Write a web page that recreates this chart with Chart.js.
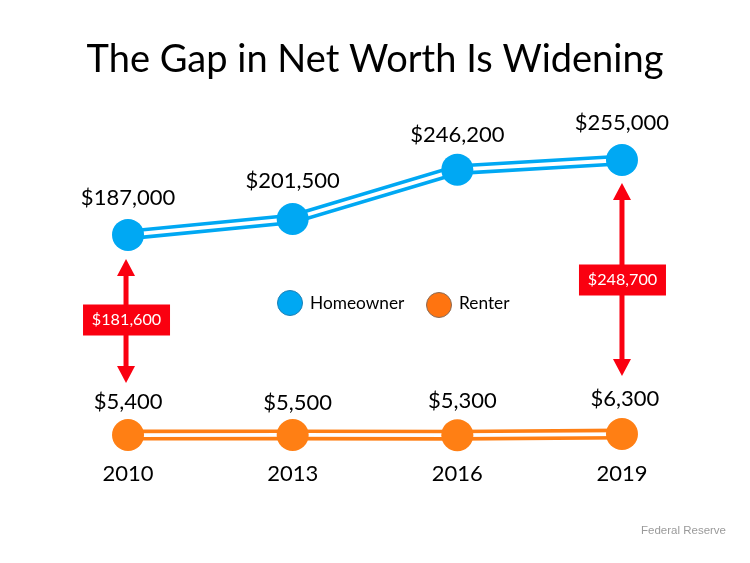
<!DOCTYPE html>
<html>
<head>
<meta charset="utf-8">
<title>The Gap in Net Worth Is Widening</title>
<script src="https://cdn.jsdelivr.net/npm/chart.js@4"></script>
<style>
  html, body { margin: 0; padding: 0; background: #fff; }
  canvas { display: block; }
</style>
</head>
<body>
<canvas id="grafico" width="750" height="563"></canvas>
<script>
const years = ['2010', '2013', '2016', '2019'];
const homeowner = [187000, 201500, 246200, 255000];
const renter = [5400, 5500, 5300, 6300];
const gapYears = ['2010', '2019'];
const gapValues = [181600, 248700];

const BLUE = '#00a8f3';
const ORANGE = '#ff7f14';
const RED = '#fa0010';
const FONT = 'Lato, "Noto Sans", sans-serif';

const money = v => '$' + v.toLocaleString('en-US');

// three layers per series: thick line, white core, then the dots on top
function lineLayer(data, color, width, order) {
    return { data, borderColor: color, borderWidth: width, pointRadius: 0, order, clip: false };
}
function dotLayer(data, color, order) {
    return { data, showLine: false, pointRadius: 16, pointBackgroundColor: color, pointBorderWidth: 0, order, clip: false };
}

// offsets of the value labels above each dot
const homeLabelDy = [-37.5, -38.5, -34.5, -37.5];
const rentLabelDy = [-33, -32, -34, -35];
const rentLabelDx = [0, 5, 5, 3];

const valueLabels = {
    id: 'valueLabels',
    afterDatasetsDraw(chart) {
        const { ctx, scales: { x, y } } = chart;
        ctx.save();
        ctx.font = '400 22px ' + FONT;
        ctx.fillStyle = '#000';
        ctx.textAlign = 'center';
        ctx.textBaseline = 'middle';
        years.forEach((yr, i) => {
            ctx.fillText(money(homeowner[i]), x.getPixelForValue(i), y.getPixelForValue(homeowner[i]) + homeLabelDy[i]);
            ctx.fillText(money(renter[i]), x.getPixelForValue(i) + rentLabelDx[i], y.getPixelForValue(renter[i]) + rentLabelDy[i]);
        });
        ctx.restore();
    }
};

function arrowHead(ctx, cx, tipY, dir) {
    ctx.beginPath();
    ctx.moveTo(cx, tipY);
    ctx.lineTo(cx - 9, tipY + dir * 17);
    ctx.lineTo(cx + 9, tipY + dir * 17);
    ctx.closePath();
    ctx.fill();
}

// red double arrows between the two series
const arrowLayout = [
    { dx: -2, top: 24, bottom: 52, box: 320 },
    { dx: 0, top: 23, bottom: 58, box: 280 }
];

const gapArrows = {
    id: 'gapArrows',
    afterDatasetsDraw(chart) {
        const { ctx, scales: { x, y } } = chart;
        ctx.save();
        gapYears.forEach((yr, i) => {
            const idx = years.indexOf(yr);
            const l = arrowLayout[i];
            const cx = x.getPixelForValue(idx) + l.dx;
            const tipTop = y.getPixelForValue(homeowner[idx]) + l.top;
            const tipBottom = y.getPixelForValue(renter[idx]) - l.bottom;
            ctx.fillStyle = RED;
            ctx.fillRect(cx - 2.5, tipTop + 16, 5, tipBottom - tipTop - 32);
            arrowHead(ctx, cx, tipTop, 1);
            arrowHead(ctx, cx, tipBottom, -1);
            ctx.fillRect(cx - 43, l.box - 15.5, 87, 31);
            ctx.fillStyle = '#fff';
            ctx.font = '400 16.2px ' + FONT;
            ctx.textAlign = 'center';
            ctx.textBaseline = 'middle';
            ctx.fillText(money(gapValues[i]), cx + 0.5, l.box);
        });
        ctx.restore();
    }
};

// legend sits in the middle of the plot, easier to draw it here
const middleLegend = {
    id: 'middleLegend',
    afterDatasetsDraw(chart) {
        const { ctx } = chart;
        const items = [
            { label: 'Homeowner', color: BLUE, edge: '#1b7fb5', x: 290, y: 303 },
            { label: 'Renter', color: '#ff7410', edge: '#8a6a55', x: 439, y: 305 }
        ];
        ctx.save();
        items.forEach(it => {
            ctx.beginPath();
            ctx.arc(it.x, it.y, 12.5, 0, Math.PI * 2);
            ctx.fillStyle = it.color;
            ctx.fill();
            ctx.lineWidth = 1;
            ctx.strokeStyle = it.edge;
            ctx.stroke();
            ctx.font = '400 17.3px ' + FONT;
            ctx.fillStyle = '#000';
            ctx.textAlign = 'left';
            ctx.textBaseline = 'middle';
            ctx.fillText(it.label, it.x + 20, 303);
        });
        ctx.font = '11.5px "Liberation Sans", Arial, sans-serif';
        ctx.fillStyle = '#9a9a9a';
        ctx.textAlign = 'right';
        ctx.fillText('Federal Reserve', 726, 531);
        ctx.restore();
    }
};

const ctx = document.getElementById('grafico').getContext('2d');

const grafico = new Chart(ctx, {
    type: 'line',
    data: {
        labels: years,
        datasets: [
            lineLayer(homeowner, BLUE, 11, 6),
            lineLayer(homeowner, '#fff', 3.8, 5),
            dotLayer(homeowner, BLUE, 4),
            lineLayer(renter, ORANGE, 11, 3),
            lineLayer(renter, '#fff', 3.8, 2),
            dotLayer(renter, ORANGE, 1)
        ]
    },
    options: {
        responsive: false,
        animation: false,
        layout: { padding: { left: 45.7, right: 45.7, top: 0, bottom: 0 } },
        plugins: {
            legend: { display: false },
            tooltip: { enabled: false },
            title: {
                display: true,
                text: 'The Gap in Net Worth Is Widening',
                color: '#000',
                font: { family: FONT, size: 38, weight: '400', lineHeight: 1.2 },
                padding: { top: 37, bottom: 27.8 }
            }
        },
        scales: {
            x: {
                offset: true,
                grid: { display: false },
                border: { display: false },
                afterFit: scale => { scale.height = 122; },
                ticks: {
                    color: '#000',
                    padding: 12,
                    font: { family: FONT, size: 22 }
                }
            },
            y: {
                display: false,
                min: 0,
                max: 300000
            }
        }
    },
    plugins: [gapArrows, valueLabels, middleLegend]
});
</script>
</body>
</html>
